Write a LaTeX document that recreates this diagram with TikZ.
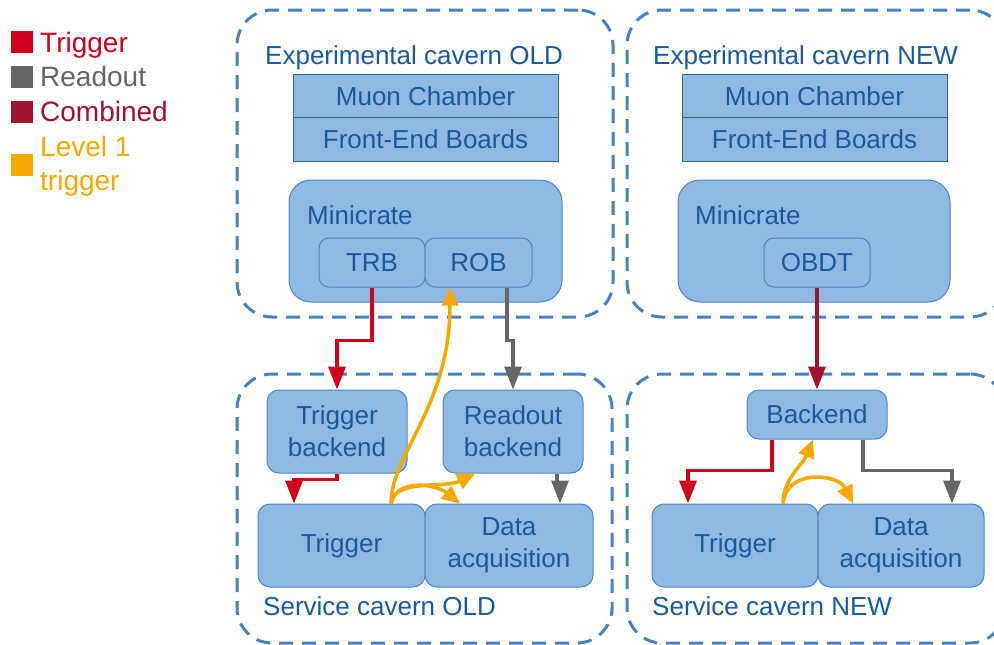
\documentclass[tikz,border=0pt]{standalone}
\usepackage{fontspec}
\setmainfont{Liberation Sans}
\usetikzlibrary{arrows.meta}
\definecolor{trig}{HTML}{D0021B}
\definecolor{rdout}{HTML}{666666}
\definecolor{comb}{HTML}{A0122F}
\definecolor{lvl}{HTML}{F5A800}
\definecolor{cav}{HTML}{4A80BC}
\definecolor{bfill}{HTML}{8EB9E3}
\definecolor{bline}{HTML}{4F86C0}
\definecolor{btxt}{HTML}{1A5A9C}
\definecolor{teal}{HTML}{2F6F73}
\begin{document}
\begin{tikzpicture}[x=1pt,y=-1pt,
  cavern/.style={draw=cav, line width=3pt, dash pattern=on 14pt off 9pt, rounded corners=35pt, inner sep=0pt},
  cavlabel/.style={text=btxt, font=\fontsize{26}{30}\selectfont, anchor=base west, inner sep=0pt},
  bbox/.style={draw=bline, fill=bfill, line width=1pt, rounded corners=12pt, text=btxt, align=center, inner sep=0pt, font=\fontsize{26}{32}\selectfont},
  crate/.style={bbox, rounded corners=22pt},
  sub/.style={bbox, rounded corners=10pt},
  mrect/.style={draw=teal, fill=bfill, line width=1pt, text=btxt, inner sep=0pt, minimum width=265pt, minimum height=44pt, font=\fontsize{26}{30}\selectfont},
  legsq/.style={fill=#1, minimum size=22pt, inner sep=0pt},
  legtxt/.style={text=#1, anchor=base west, inner sep=0pt, font=\fontsize{28}{34}\selectfont},
  tip/.style={-{Triangle[length=23pt,width=17pt]}},
  trigline/.style={tip, draw=trig, line width=3.5pt},
  rdline/.style={tip, draw=rdout, line width=3.5pt},
  combline/.style={tip, draw=comb, line width=3.5pt},
  lvline/.style={-{Triangle[length=18pt,width=16pt]}, draw=lvl, line width=3.5pt},
]
\useasboundingbox (0,0) rectangle (994,645);
\clip (0,0) rectangle (994,645);

% legend
\node[legsq=trig] (lq1) at (22,42) {};
\node[legtxt=trig] (lt1) at (40,52) {Trigger};
\node[legsq=rdout] (lq2) at (22,77) {};
\node[legtxt=rdout] (lt2) at (40,86) {Readout};
\node[legsq=comb] (lq3) at (22,112) {};
\node[legtxt=comb] (lt3) at (40,121) {Combined};
\node[legsq=lvl] (lq4) at (22,165) {};
\node[legtxt=lvl] (lt4) at (40,156) {Level 1};
\node[legtxt=lvl] (lt5) at (40,190) {trigger};

% caverns
\node[cavern, minimum width=376pt, minimum height=307pt] (expold) at (425,163.5) {};
\node[cavern, minimum width=378pt, minimum height=307pt] (expnew) at (816,163.5) {};
\node[cavern, minimum width=375pt, minimum height=269pt] (svcold) at (424.5,508.5) {};
\node[cavern, minimum width=378pt, minimum height=269pt] (svcnew) at (816,508.5) {};

\node[cavlabel] (lexpold) at (265,64) {Experimental cavern OLD};
\node[cavlabel] (lexpnew) at (653,64) {Experimental cavern NEW};
\node[cavlabel] (lsvcold) at (263,615) {Service cavern OLD};
\node[cavlabel] (lsvcnew) at (652,615) {Service cavern NEW};

% muon chamber / FEB
\node[mrect] (mcold) at (425.5,96) {Muon Chamber};
\node[mrect] (febold) at (425.5,139) {Front-End Boards};
\node[mrect] (mcnew) at (814.5,96) {Muon Chamber};
\node[mrect] (febnew) at (814.5,139) {Front-End Boards};

% minicrates
\node[crate, minimum width=273pt, minimum height=122pt] (mcrold) at (425.5,241) {};
\node[cavlabel] (lmcrold) at (307,224) {Minicrate};
\node[sub, minimum width=106pt, minimum height=49pt] (trb) at (372,262.5) {TRB};
\node[sub, minimum width=107pt, minimum height=49pt] (rob) at (478.5,262.5) {ROB};

\node[crate, minimum width=272pt, minimum height=122pt] (mcrnew) at (814,241) {};
\node[cavlabel] (lmcrnew) at (695,224) {Minicrate};
\node[sub, minimum width=106pt, minimum height=49pt] (obdt) at (817,262.5) {OBDT};

% service old
\node[bbox, minimum width=140pt, minimum height=83pt] (trigbe) at (337,431.5) {Trigger\\backend};
\node[bbox, minimum width=140pt, minimum height=83pt] (robe) at (513,431.5) {Readout\\backend};
\node[bbox, minimum width=167pt, minimum height=83pt] (trigold) at (341.5,545.5) {Trigger};
\node[bbox, minimum width=168pt, minimum height=83pt] (daqold) at (509,545.5) {Data\\acquisition};

% service new
\node[bbox, minimum width=140pt, minimum height=49pt] (backend) at (817,414.5) {Backend};
\node[bbox, minimum width=166pt, minimum height=83pt] (trignew) at (735,545.5) {Trigger};
\node[bbox, minimum width=166pt, minimum height=83pt] (daqnew) at (901,545.5) {Data\\acquisition};

% connectors old
\draw[trigline] (trb.south) -- ++(0,53) -| (trigbe.north);
\draw[trigline] (trigbe.south) -- ++(0,6) -| ([xshift=-47.5pt]trigold.north);
\draw[rdline] ([xshift=28.5pt]rob.south) -- ++(0,53) -| (robe.north);
\draw[rdline] ([xshift=44pt]robe.south) -- ++(0,10) -| ([xshift=51pt]daqold.north);

\coordinate (lo) at ([xshift=49.5pt]trigold.north);
\draw[lvline] (lo) .. controls +(0,-50) and +(0,120) .. ([xshift=-28.5pt]rob.south);
\draw[lvline] (lo) .. controls +(3,-25) and +(-30,15) .. ([xshift=-38pt]robe.south);
\draw[lvline] (lo) .. controls +(5,-25) and +(-25,-20) .. ([xshift=-49pt]daqold.north);

% connectors new
\draw[combline] (obdt.south) -- (backend.north);
\draw[trigline] ([xshift=-45pt]backend.south) -- ++(0,31) -| ([xshift=-47pt]trignew.north);
\draw[rdline] ([xshift=46pt]backend.south) -- ++(0,31) -| ([xshift=51pt]daqnew.north);

\coordinate (ln) at ([xshift=48pt]trignew.north);
\draw[lvline] (ln) .. controls +(0,-25) and +(-10,25) .. ([xshift=-4pt]backend.south);
\draw[lvline] (ln) .. controls +(3,-35) and +(-15,-30) .. ([xshift=-48pt]daqnew.north);
\end{tikzpicture}
\end{document}
